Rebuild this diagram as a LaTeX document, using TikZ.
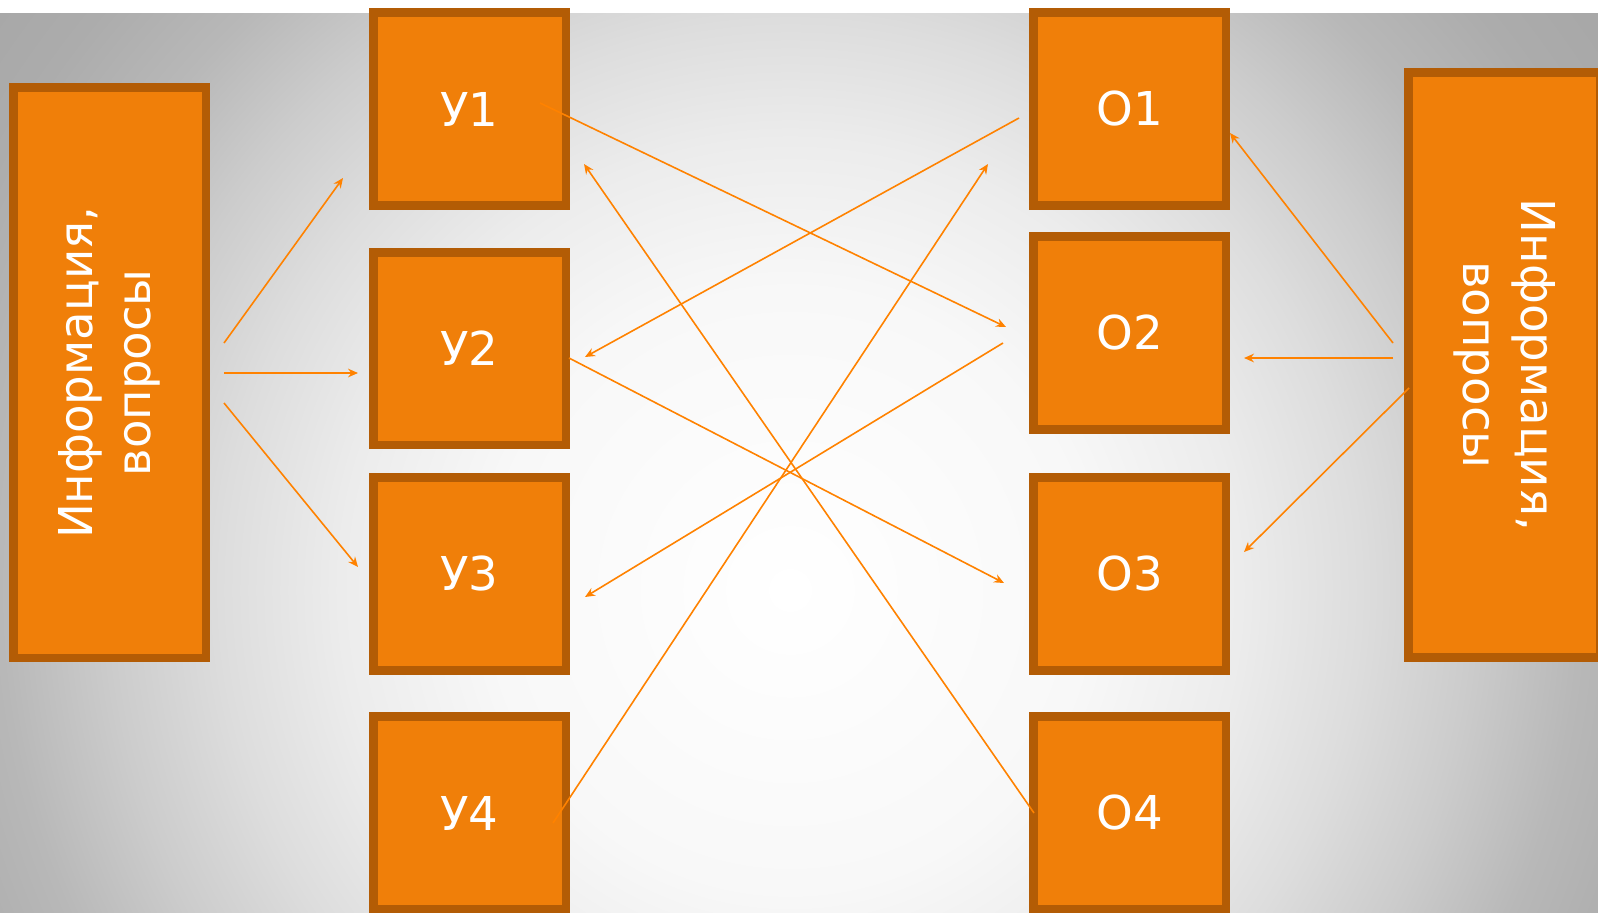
\documentclass[tikz,border=0pt]{standalone}
\usepackage{fontspec}
\setmainfont{DejaVu Sans}
\usepackage{xcolor}
\usetikzlibrary{arrows.meta}

\definecolor{org}{RGB}{240,127,9}
\definecolor{brd}{RGB}{179,92,5}
\definecolor{arrc}{RGB}{255,130,0}
\definecolor{bgA}{RGB}{248,248,248}
\definecolor{bgB}{RGB}{236,236,236}
\definecolor{bgC}{RGB}{221,221,221}
\definecolor{bgD}{RGB}{204,204,204}
\definecolor{bgE}{RGB}{184,184,184}
\definecolor{bgF}{RGB}{172,172,172}
\definecolor{bgG}{RGB}{168,168,168}
\pgfdeclareradialshading{bgshade}{\pgfpoint{0bp}{0bp}}{color(0bp)=(white); color(7.5bp)=(bgA); color(11.25bp)=(bgB); color(14.25bp)=(bgC); color(17bp)=(bgD); color(19.75bp)=(bgE); color(22.5bp)=(bgF); color(24.5bp)=(bgG); color(50bp)=(bgG)}

\tikzset{
  blk/.style={draw=brd, fill=org, line width=6.4pt, minimum width=144.4pt, minimum height=144.4pt, inner sep=0pt, text=white, font=\fontsize{35}{42}\selectfont},
  side/.style={blk, minimum height=144.2pt, align=center, font=\fontsize{35}{43.5}\selectfont},
  arr/.style={draw=arrc, line width=1.2pt, -{Stealth[length=7.5pt,width=6.5pt,inset=2.5pt]}}
}

\begin{document}
\begin{tikzpicture}[x=0.75pt,y=0.75pt,yscale=-1,xscale=1]
    \useasboundingbox (0,0) rectangle (1598,913);

    %Background
    \fill[white] (0,0) rectangle (1598,14);
    \begin{scope}
    \clip (0,14) rectangle (1598,913);
    \shade[shading=bgshade] (790,590) circle (1000);
    \end{scope}

    %Shape: side boxes
    \node[side, rotate=90, minimum width=427.6pt] (infl) at (109.7,372.8) {Информация,\\вопросы};
    \node[side, rotate=-90, minimum width=438.9pt] (infr) at (1504.5,365) {Информация,\\вопросы};

    %Shape: У column
    \node[blk] (u1) at (469.5,109) {У1};
    \node[blk] (u2) at (469.5,348.5) {У2};
    \node[blk] (u3) at (469.5,574) {У3};
    \node[blk] (u4) at (469.5,813) {У4};

    %Shape: О column
    \node[blk] (o1) at (1129.5,109) {О1};
    \node[blk] (o2) at (1129.5,333) {О2};
    \node[blk] (o3) at (1129.5,574) {О3};
    \node[blk] (o4) at (1129.5,813) {О4};

    % arrow ends
    \coordinate (s1) at (224,343);    \coordinate (t1) at (343,178);
    \coordinate (s2) at (224,373);    \coordinate (t2) at (358,373);
    \coordinate (s3) at (224,403);    \coordinate (t3) at (358,567);
    \coordinate (s4) at (1393,343);   \coordinate (t4) at (1230,133);
    \coordinate (s5) at (1393,358);   \coordinate (t5) at (1244,358);
    \coordinate (s6) at (1409,388);   \coordinate (t6) at (1244,552);
    \coordinate (s7) at (540,103);    \coordinate (t7) at (1006,327);
    \coordinate (s8) at (1019,118);   \coordinate (t8) at (585,357);
    \coordinate (s9) at (569,358);    \coordinate (t9) at (1004,583);
    \coordinate (s10) at (1003,343);  \coordinate (t10) at (585,597);
    \coordinate (s11) at (1034,813);  \coordinate (t11) at (584,164);
    \coordinate (s12) at (553,823);   \coordinate (t12) at (988,164);

    %Straight Lines: from the left box
    \draw[arr] (s1) -- (t1);
    \draw[arr] (s2) -- (t2);
    \draw[arr] (s3) -- (t3);
    %Straight Lines: from the right box
    \draw[arr] (s4) -- (t4);
    \draw[arr] (s5) -- (t5);
    \draw[arr] (s6) -- (t6);
    %Straight Lines: crossing
    \draw[arr] (s7) -- (t7);
    \draw[arr] (s8) -- (t8);
    \draw[arr] (s9) -- (t9);
    \draw[arr] (s10) -- (t10);
    \draw[arr] (s11) -- (t11);
    \draw[arr] (s12) -- (t12);

\end{tikzpicture}
\end{document}
